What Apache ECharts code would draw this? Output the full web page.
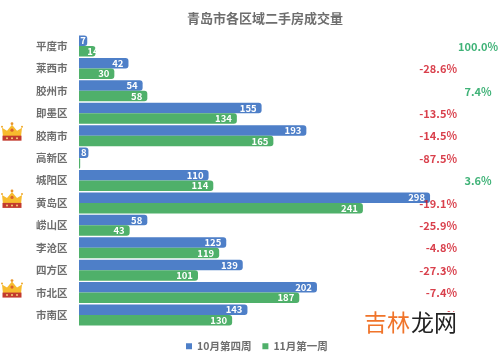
<!DOCTYPE html>
<html>
<head>
<meta charset="utf-8">
<style>html,body{margin:0;padding:0;background:#fff}#main{width:499px;height:360px}</style>
<script src="https://cdn.jsdelivr.net/npm/echarts@6/dist/echarts.min.js"></script>
</head>
<body>
<div id="main"></div>
<script>
var districts = ['平度市', '莱西市', '胶州市', '即墨区', '胶南市', '高新区', '城阳区', '黄岛区', '崂山区', '李沧区', '四方区', '市北区', '市南区'];
var octWeek4 = [7, 42, 54, 155, 193, 8, 110, 298, 58, 125, 139, 202, 143];
var novWeek1 = [14, 30, 58, 134, 165, 1, 114, 241, 43, 119, 101, 187, 130];
var changes = ['100.0%', '-28.6%', '7.4%', '-13.5%', '-14.5%', '-87.5%', '3.6%', '-19.1%', '-25.9%', '-4.8%', '-27.3%', '-7.4%', '-9.1%'];
var crowned = ['胶南市', '黄岛区', '市北区'];

var font = '"Noto Sans CJK SC", sans-serif';
var blue = '#4e7fc8';
var green = '#4fb06a';
var pxPerUnit = 1.178;

// 涨跌幅文字放在图右侧两列，红色右对齐，绿色居中
var changePoints = changes.map(function (c, i) {
    var down = c.charAt(0) === '-';
    return {
        value: [(down ? 457.5 - 79 : 478 - 79) / pxPerUnit, districts[i]],
        label: {
            show: true,
            formatter: c,
            position: down ? 'left' : 'inside',
            distance: 0,
            offset: [0, 0.5],
            fontFamily: font,
            fontSize: 11,
            fontWeight: 'bold',
            color: down ? '#d0101f' : '#0f9f55'
        }
    };
});

// 柱子太短时文字的放法不一样
function blueData() {
    return octWeek4.map(function (v) {
        if (v < 10) return {value: v, label: {position: 'inside', distance: 0}};
        return v;
    });
}

function greenData() {
    return novWeek1.map(function (v) {
        if (v === 1) return {value: v, label: {show: false}};
        if (v < 20) return {value: v, label: {offset: [8, 0]}};
        return v;
    });
}

function drawCrown(params, api) {
    var p = api.coord([0, api.value(0)]);
    return {
        type: 'group',
        x: 12,
        y: p[1] - 4,
        children: [
            {type: 'polygon', shape: {points: [[-10, -4], [-5, -1], [0, -7], [5, -1], [10, -4], [9, 5], [-9, 5]]}, style: {fill: '#f7bb2e'}},
            {type: 'circle', shape: {cx: 0, cy: -8, r: 1.4}, style: {fill: '#e8952a'}},
            {type: 'circle', shape: {cx: -10, cy: -5, r: 1}, style: {fill: '#f0a92a'}},
            {type: 'circle', shape: {cx: 10, cy: -5, r: 1}, style: {fill: '#f0a92a'}},
            {type: 'rect', shape: {x: -9.5, y: 4, width: 19, height: 5}, style: {fill: '#c23a2e'}},
            {type: 'circle', shape: {cx: -5, cy: 6.5, r: 1}, style: {fill: '#f4d27a'}},
            {type: 'circle', shape: {cx: 0, cy: 6.5, r: 1}, style: {fill: '#f4d27a'}},
            {type: 'circle', shape: {cx: 5, cy: 6.5, r: 1}, style: {fill: '#f4d27a'}},
            {type: 'circle', shape: {cx: 0, cy: -1.5, r: 1.6}, style: {fill: '#d9622c'}}
        ]
    };
}

var chart = echarts.init(document.getElementById('main'));
chart.setOption({
    animation: false,
    backgroundColor: '#fff',
    textStyle: {fontFamily: font},
    title: {
        text: '青岛市各区域二手房成交量',
        left: 182,
        top: 7,
        textStyle: {color: '#6e6e6e', fontSize: 13, fontWeight: 'bold', fontFamily: font}
    },
    legend: {
        data: ['10月第四周', '11月第一周'],
        left: 181,
        top: 336,
        itemWidth: 6,
        itemHeight: 6,
        itemGap: 11,
        icon: 'rect',
        textStyle: {color: '#6e6e6e', fontSize: 10.5, fontWeight: 'bold', fontFamily: font}
    },
    grid: {left: 79, top: 34.8, width: 420, height: 291.4},
    xAxis: {type: 'value', min: 0, max: 420 / pxPerUnit, show: false},
    yAxis: {
        type: 'category',
        inverse: true,
        data: districts,
        axisLine: {show: false},
        axisTick: {show: false},
        axisLabel: {color: '#6e6e6e', fontSize: 10.5, fontWeight: 'bold', margin: 11.5, fontFamily: font}
    },
    series: [
        {
            name: '10月第四周',
            type: 'bar',
            data: blueData(),
            barWidth: 10.5,
            barGap: 0,
            itemStyle: {color: blue, borderRadius: [0, 3, 3, 0]},
            label: {show: true, position: 'insideRight', distance: 5, color: '#fff', fontSize: 9.5, fontWeight: 'bold', fontFamily: font}
        },
        {
            name: '11月第一周',
            type: 'bar',
            data: greenData(),
            barWidth: 10.5,
            itemStyle: {color: green, borderRadius: [0, 3, 3, 0]},
            label: {show: true, position: 'insideRight', distance: 5, color: '#fff', fontSize: 9.5, fontWeight: 'bold', fontFamily: font}
        },
        {
            type: 'scatter',
            data: changePoints,
            symbolSize: 1,
            itemStyle: {color: 'transparent'},
            clip: false,
            silent: true,
            z: 5
        },
        {
            type: 'custom',
            data: crowned.map(function (d) { return [d]; }),
            encode: {y: 0},
            renderItem: drawCrown,
            silent: true,
            z: 6
        }
    ],
    graphic: [
        {type: 'rect', left: 362, top: 312, shape: {width: 98, height: 25}, style: {fill: '#fff'}, z: 100},
        {type: 'text', left: 364, top: 311, style: {text: '吉林', fill: '#f0742a', font: '23px ' + font}, z: 101},
        {type: 'text', left: 411, top: 311, style: {text: '龙网', fill: '#222', font: '23px ' + font}, z: 101}
    ]
});
</script>
</body>
</html>
